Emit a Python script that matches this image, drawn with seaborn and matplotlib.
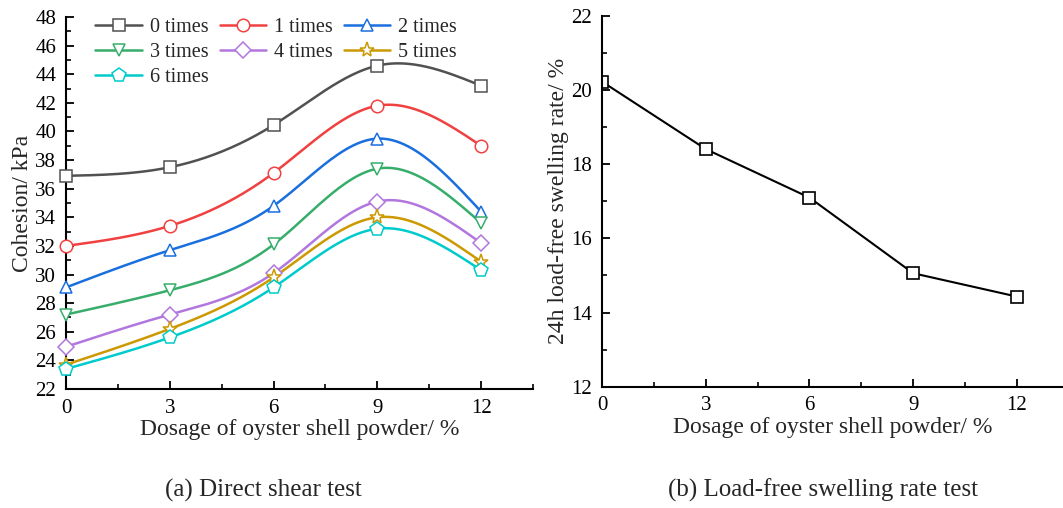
import numpy as np
import pandas as pd
import matplotlib
matplotlib.use('Agg')
import matplotlib.pyplot as plt
from matplotlib.lines import Line2D
from matplotlib.ticker import MultipleLocator
import seaborn as sns

# ---- data ----
dosage = [0, 3, 6, 9, 12]
series_names = ['0 times', '1 times', '2 times', '3 times', '4 times', '5 times', '6 times']
cohesion_0 = [36.9, 37.5, 40.45, 44.6, 43.2]
cohesion_1 = [32.0, 33.4, 37.1, 41.8, 39.0]
cohesion_2 = [29.1, 31.7, 34.8, 39.5, 34.4]
cohesion_3 = [27.2, 28.9, 32.1, 37.4, 33.6]
cohesion_4 = [24.95, 27.2, 30.1, 35.1, 32.2]
cohesion_5 = [23.7, 26.2, 29.8, 34.0, 30.9]
cohesion_6 = [23.4, 25.6, 29.1, 33.2, 30.3]
swelling_rate = [20.23, 18.41, 17.1, 15.06, 14.43]

cohesion = [cohesion_0, cohesion_1, cohesion_2, cohesion_3, cohesion_4, cohesion_5, cohesion_6]
colors = ['#515151', '#F14040', '#1A6FDF', '#37AD6B', '#B177DE', '#CC9900', '#00CBCC']
markers = ['s', 'o', '^', 'v', 'D', '*', 'p']
msizes = [8, 9, 9, 9, 8, 11, 10]


def natural_spline(x, y, n=200):
    # natural cubic spline through the measured points, used only to draw the smooth connection
    x = np.asarray(x, float)
    y = np.asarray(y, float)
    k = len(x)
    h = np.diff(x)
    A = np.zeros((k, k))
    b = np.zeros(k)
    A[0, 0] = A[-1, -1] = 1
    for i in range(1, k - 1):
        A[i, i - 1] = h[i - 1]
        A[i, i] = 2 * (h[i - 1] + h[i])
        A[i, i + 1] = h[i]
        b[i] = 3 * ((y[i + 1] - y[i]) / h[i] - (y[i] - y[i - 1]) / h[i - 1])
    c = np.linalg.solve(A, b)
    xs = np.linspace(x[0], x[-1], n)
    ys = np.empty_like(xs)
    for j, xv in enumerate(xs):
        i = min(np.searchsorted(x, xv, side='right') - 1, k - 2)
        d = xv - x[i]
        bi = (y[i + 1] - y[i]) / h[i] - h[i] * (2 * c[i] + c[i + 1]) / 3
        di = (c[i + 1] - c[i]) / (3 * h[i])
        ys[j] = y[i] + bi * d + c[i] * d ** 2 + di * d ** 3
    return xs, ys


sns.set_style('ticks')
plt.rcParams['font.family'] = ['Liberation Serif', 'DejaVu Serif']

fig = plt.figure(figsize=(10.63, 5.08), dpi=100)
ax1 = fig.add_axes([0.0621, 0.2343, 0.4393, 0.7322])
ax2 = fig.add_axes([0.5663, 0.2388, 0.4337, 0.7297])

# --- (a) cohesion ---
curve_rows = []
point_rows = []
for name, vals in zip(series_names, cohesion):
    xs, ys = natural_spline(dosage, vals)
    curve_rows.append(pd.DataFrame({'x': xs, 'y': ys, 'series': name}))
    point_rows.append(pd.DataFrame({'x': dosage, 'y': vals, 'series': name}))
curves = pd.concat(curve_rows, ignore_index=True)
points = pd.concat(point_rows, ignore_index=True)

pal = dict(zip(series_names, colors))
sns.lineplot(data=curves, x='x', y='y', hue='series', palette=pal, lw=1.8,
             legend=False, ax=ax1, sort=False, estimator=None)
for name, mk, ms in zip(series_names, markers, msizes):
    sub = points[points['series'] == name]
    ax1.plot(sub['x'], sub['y'], ls='none', marker=mk, ms=ms, mfc='white',
             mec=pal[name], mew=1.1, zorder=5, clip_on=False)

handles = [Line2D([0], [0], color=c, lw=1.8, marker=m, ms=ms, mfc='white', mec=c, mew=1.1)
           for c, m, ms in zip(colors, markers, msizes)]
# matplotlib fills legend columns first; reorder so rows read 0-1-2 / 3-4-5 / 6
order = [0, 3, 6, 1, 4, 2, 5]
ax1.legend([handles[i] for i in order], [series_names[i] for i in order], ncol=3,
           frameon=False, fontsize=14.5, loc='upper left', bbox_to_anchor=(0.037, 1.03),
           handlelength=2.3, handletextpad=0.4, columnspacing=0.55, labelspacing=0.3,
           borderaxespad=0.2)

ax1.set_xlim(0, 13.5)
ax1.set_ylim(22, 48)
ax1.xaxis.set_major_locator(MultipleLocator(3))
ax1.xaxis.set_minor_locator(MultipleLocator(1.5))
ax1.yaxis.set_major_locator(MultipleLocator(2))
ax1.yaxis.set_minor_locator(MultipleLocator(1))
ax1.set_xlabel('Dosage of oyster shell powder/ %', fontsize=17, labelpad=1)
ax1.set_ylabel('Cohesion/ kPa', fontsize=17, labelpad=2)

# --- (b) swelling rate ---
sw = pd.DataFrame({'x': dosage, 'y': swelling_rate})
sns.lineplot(data=sw, x='x', y='y', color='black', lw=1.5, marker='s', ms=9,
             mfc='white', mec='black', mew=1.2, ax=ax2)
ax2.set_xlim(0, 13.33)
ax2.set_ylim(12, 22)
ax2.xaxis.set_major_locator(MultipleLocator(3))
ax2.xaxis.set_minor_locator(MultipleLocator(1.5))
ax2.yaxis.set_major_locator(MultipleLocator(2))
ax2.yaxis.set_minor_locator(MultipleLocator(1))
ax2.set_xlabel('Dosage of oyster shell powder/ %', fontsize=17, labelpad=1)
ax2.set_ylabel('24h load-free swelling rate/ %', fontsize=17, labelpad=2)

for ax in (ax1, ax2):
    sns.despine(ax=ax)
    for s in ('left', 'bottom'):
        ax.spines[s].set_linewidth(1.5)
        ax.spines[s].set_color('black')
    ax.tick_params(which='major', direction='in', length=6, width=1.3, labelsize=15,
                   colors='black', pad=7)
    ax.tick_params(which='minor', direction='in', length=3.5, width=1.2, colors='black')

fig.text(0.248, 0.035, '(a) Direct shear test', ha='center', va='center', fontsize=18)
fig.text(0.774, 0.035, '(b) Load-free swelling rate test', ha='center', va='center', fontsize=18)

fig.savefig('out.png', dpi=100, facecolor='white')
